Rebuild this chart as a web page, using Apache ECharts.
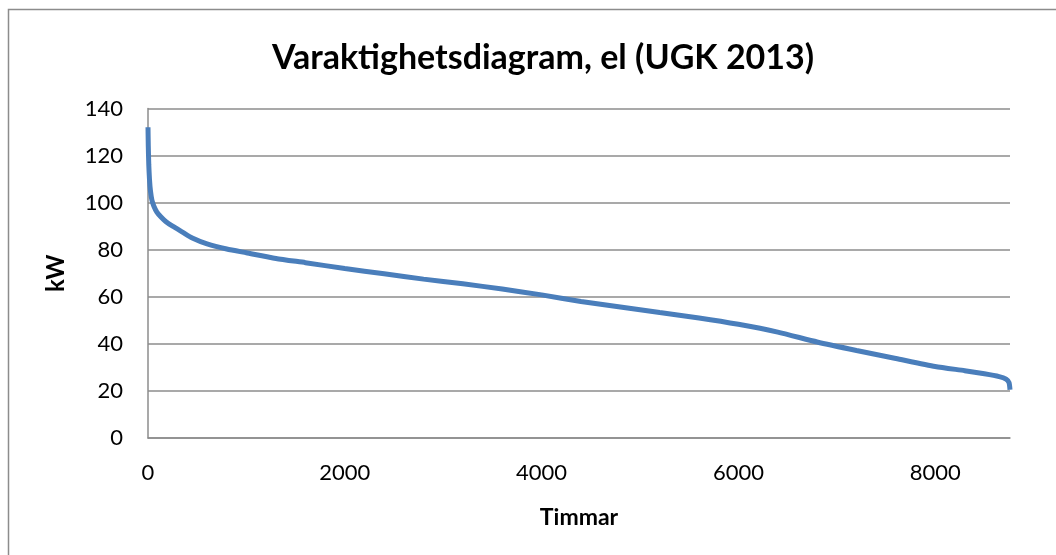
<!DOCTYPE html>
<html>
<head>
<meta charset="utf-8">
<script src="https://cdn.jsdelivr.net/npm/echarts@6/dist/echarts.min.js"></script>
<style>
    html, body { margin: 0; padding: 0; background: #fff; }
    #chart { width: 1056px; height: 555px; }
</style>
</head>
<body>
<div id="chart"></div>
<script>
    // varaktighet: timmar (sorterat) och effekt i kW
    let hours = [0, 3, 8, 15, 25, 40, 60, 90, 130, 180, 250, 350, 450, 600, 800, 1000, 1300, 1600, 2000,
        2400, 2800, 3200, 3600, 4000, 4400, 4800, 5200, 5600, 6000, 6400, 6800, 7200, 7600, 8000,
        8300, 8500, 8650, 8720, 8750, 8760]
    let kw = [132, 124, 116, 110, 105, 101, 98.5, 96, 94, 92, 90, 87.5, 85, 82.5, 80.3, 78.7, 76.3, 74.5, 72,
        69.8, 67.5, 65.5, 63.3, 60.8, 58, 55.7, 53.3, 51, 48.3, 45, 40.8, 37.2, 33.8, 30.4,
        28.6, 27.3, 26.1, 25, 23.5, 20.5]
    let xTicks = [0, 2000, 4000, 6000, 8000]

    let chart = echarts.init(document.getElementById('chart'))
    let font = 'Lato, "Open Sans", sans-serif'
    let grid = '#8c8c8c'

    let option = {
        animation: false,
        title: {
            text: 'Varaktighetsdiagram, el (UGK 2013)',
            left: 538,
            top: 36,
            textAlign: 'center',
            textStyle: { fontFamily: font, fontSize: 34, fontWeight: 'bold', color: '#000' }
        },
        graphic: [{
            type: 'rect',
            shape: { x: 8.5, y: 9.5, width: 1200, height: 700 },
            style: { fill: 'none', stroke: grid, lineWidth: 1.5 },
            silent: true
        }],
        grid: { left: 148, right: 46, top: 108.5, bottom: 117 },
        xAxis: {
            type: 'value',
            min: 0,
            max: 8760,
            interval: 2000,
            name: 'Timmar',
            nameLocation: 'middle',
            nameGap: 68,
            nameTextStyle: { fontFamily: font, fontSize: 23, fontWeight: 'bold', color: '#000' },
            axisLine: { show: true, lineStyle: { color: grid, width: 1.5 } },
            axisTick: { show: false },
            splitLine: { show: false },
            axisLabel: {
                fontFamily: font, fontSize: 22, color: '#000', margin: 24,
                showMaxLabel: false,
                formatter: function (v) { return xTicks.indexOf(v) >= 0 ? String(v) : '' }
            }
        },
        yAxis: {
            type: 'value',
            min: 0,
            max: 140,
            interval: 20,
            name: 'kW',
            nameLocation: 'middle',
            nameGap: 80,
            nameTextStyle: { fontFamily: font, fontSize: 24, fontWeight: 'bold', color: '#000' },
            axisLine: { show: true, lineStyle: { color: grid, width: 1.5 } },
            axisTick: { show: false },
            splitLine: { show: true, lineStyle: { color: grid, width: 1.5 } },
            axisLabel: { fontFamily: font, fontSize: 22, color: '#000', margin: 25 }
        },
        series: [{
            type: 'line',
            data: hours.map(function (h, i) { return [h, kw[i]] }),
            showSymbol: false,
            symbol: 'none',
            smooth: 0.2,
            lineStyle: { color: '#4a7ebb', width: 5 }
        }]
    }
    chart.setOption(option)
    window.addEventListener('resize', function () {
        chart.resize()
    })
</script>
</body>
</html>
